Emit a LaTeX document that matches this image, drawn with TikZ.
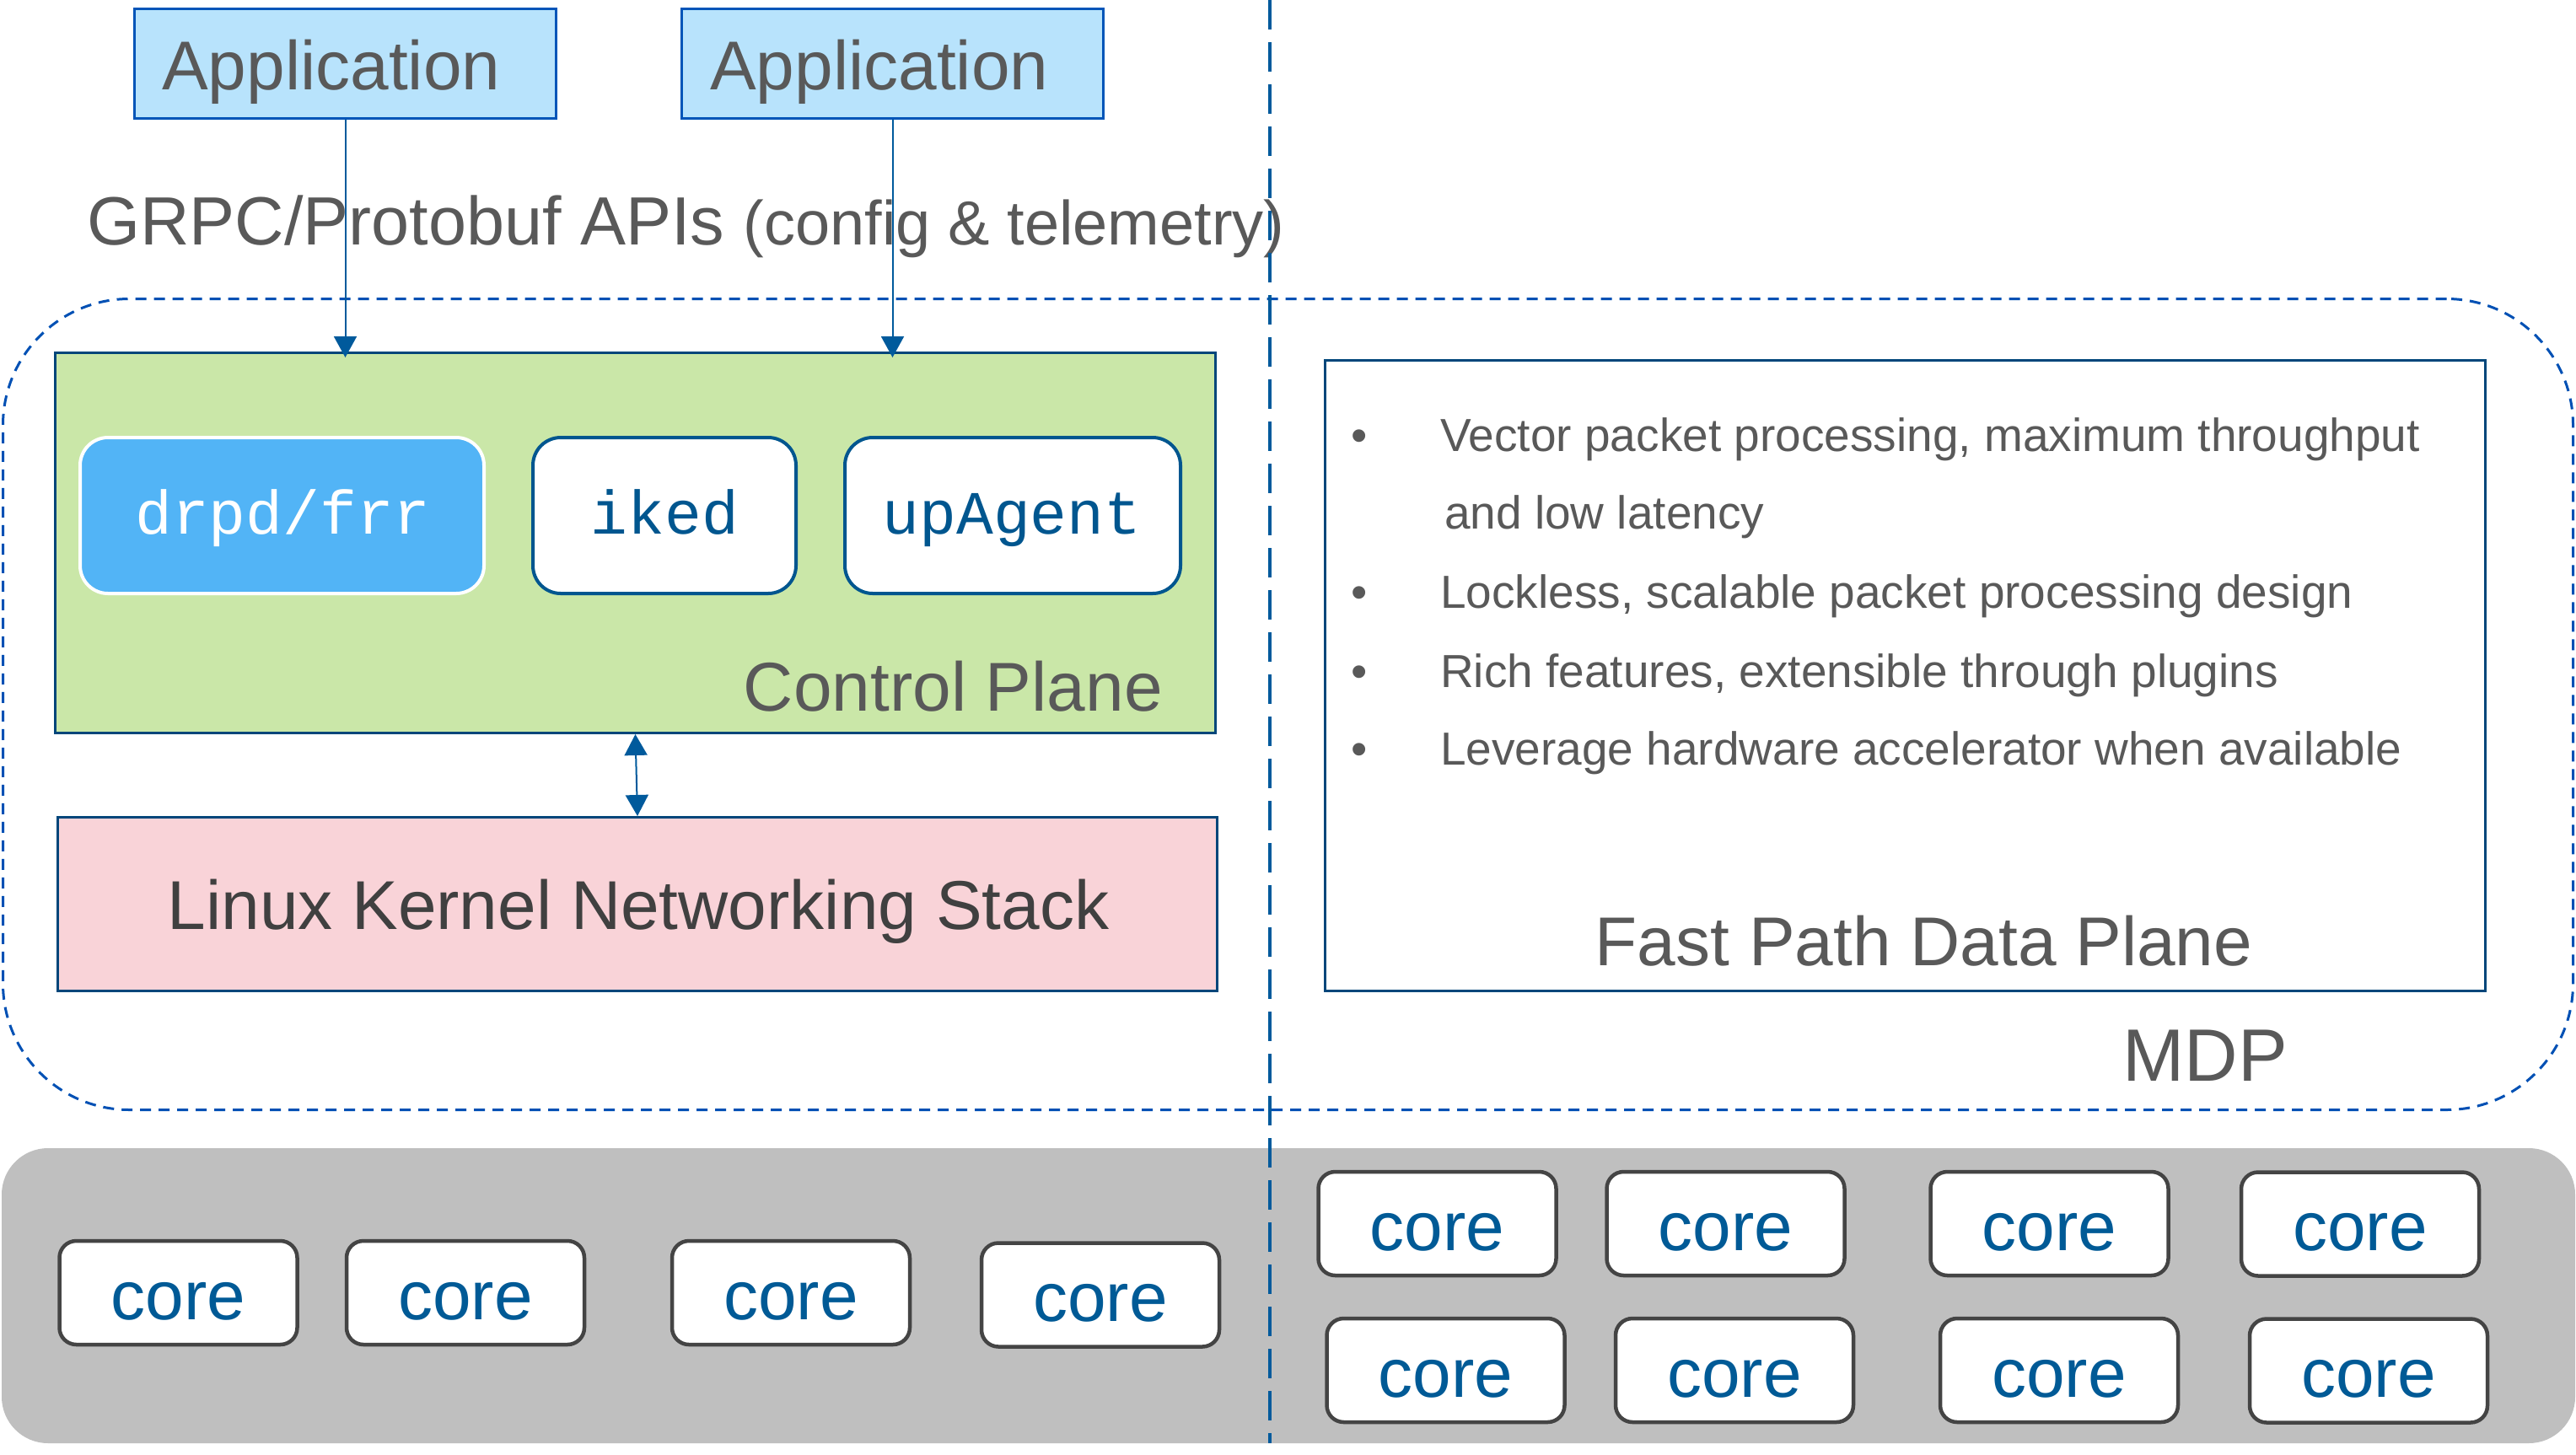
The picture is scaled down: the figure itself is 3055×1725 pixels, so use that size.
\documentclass[tikz,border=0pt]{standalone}
\usepackage{fontspec}
\setmainfont{Liberation Sans}
\newfontfamily\monofont{Liberation Mono}
\usetikzlibrary{arrows.meta}
\definecolor{appfill}{HTML}{B8E3FC}
\definecolor{appborder}{HTML}{0055B8}
\definecolor{arrblue}{HTML}{005A9C}
\definecolor{tgray}{HTML}{595959}
\definecolor{greenfill}{HTML}{CAE7A8}
\definecolor{navy}{HTML}{00467A}
\definecolor{drpdfill}{HTML}{52B4F6}
\definecolor{boxborder}{HTML}{00568F}
\definecolor{pinkfill}{HTML}{F9D3D8}
\definecolor{mdpblue}{HTML}{0050B4}
\definecolor{vblue}{HTML}{005A9C}
\definecolor{grayfill}{HTML}{BFBFBF}
\definecolor{coreborder}{HTML}{444444}
\definecolor{coretext}{HTML}{005A96}
\definecolor{linuxtext}{HTML}{404040}
\begin{document}
\begin{tikzpicture}[x=1pt,y=-1pt,
  appbox/.style={draw=appborder, fill=appfill, line width=3pt, minimum width=500pt, minimum height=130pt, inner sep=0pt},
  bigtxt/.style={anchor=base west, inner sep=0pt, text=tgray, font=\fontsize{82}{98}\selectfont},
  plane/.style={draw=navy, line width=3pt, inner sep=0pt},
  procbox/.style={draw=boxborder, fill=white, line width=4pt, rounded corners=33pt, minimum height=185pt, inner sep=0pt},
  monotxt/.style={anchor=base, inner sep=0pt, font=\monofont\fontsize{73}{88}\selectfont},
  bultxt/.style={anchor=base west, inner sep=0pt, text=tgray, font=\fontsize{55}{66}\selectfont},
  bulsym/.style={anchor=base, inner sep=0pt, text=tgray, font=\fontsize{55}{66}\selectfont},
  corebox/.style={draw=coreborder, fill=white, line width=4.5pt, rounded corners=20pt, minimum width=282pt, minimum height=123pt, inner sep=0pt, text=coretext, font=\fontsize{82}{98}\selectfont, text height=63pt, text depth=0pt},
  arr/.style={draw=arrblue, line width=2pt, -{Triangle[width=27pt,length=25pt]}, shorten >=-7pt},
  arrboth/.style={draw=arrblue, line width=2pt, {Triangle[width=27pt,length=25pt]}-{Triangle[width=27pt,length=25pt]}},
  vdash/.style={draw=vblue, line width=4pt, dash pattern=on 35pt off 15pt}
]
\useasboundingbox (0,0) rectangle (3055,1725);

% CPU area
\node[fill=grayfill, rounded corners=55pt, minimum width=3052pt, minimum height=350pt, inner sep=0pt] (cpu) at (1528,1537) {};

% MDP dashed frame
\node[draw=mdpblue, line width=3pt, dash pattern=on 13pt off 9pt, rounded corners=150pt, minimum width=3048pt, minimum height=962pt, inner sep=0pt] (mdp) at (1527.5,835.5) {};
\node[anchor=base west, inner sep=0pt, text=tgray, font=\fontsize{88}{106}\selectfont] (mdpt) at (2517,1282) {MDP};

% Applications
\node[appbox] (app1) at (409.5,75.5) {};
\node[bigtxt] (app1t) at (192,106) {Application};
\node[appbox] (app2) at (1058.5,75.5) {};
\node[bigtxt] (app2t) at (842,106) {Application};

% API label
\node[anchor=base west, inner sep=0pt, text=tgray, font=\fontsize{81}{97}\selectfont] (grpc) at (103,290) {GRPC/Protobuf APIs {\fontsize{74}{89}\selectfont(config \& telemetry)}};

% Control plane
\node[plane, fill=greenfill, minimum width=1376pt, minimum height=451pt] (green) at (753.5,644) {};
\node[bigtxt, anchor=base east] (cpt) at (1379,843) {Control Plane};
\node[procbox, fill=drpdfill, draw=white, minimum width=479pt] (drpd) at (334.5,611.5) {};
\node[monotxt, text=white] (drpdt) at (335.5,633) {drpd/frr};
\node[procbox, minimum width=312pt] (iked) at (788,611.5) {};
\node[monotxt, text=boxborder] (ikedt) at (788.5,633) {iked};
\node[procbox, minimum width=398pt] (upag) at (1201,611.5) {};
\node[monotxt, text=boxborder] (upagt) at (1200,633) {upAgent};

% Linux
\node[plane, fill=pinkfill, minimum width=1375pt, minimum height=206pt] (pink) at (756,1072.5) {};
\node[anchor=base, inner sep=0pt, text=linuxtext, font=\fontsize{82}{98}\selectfont] (pinkt) at (757,1102) {Linux Kernel Networking Stack};

% Fast path
\node[plane, fill=white, minimum width=1376pt, minimum height=748pt] (fast) at (2259.5,801.5) {};
\node[bulsym] (b1) at (1612,535) {•};
\node[bultxt] (l1) at (1708,535) {Vector packet processing, maximum throughput};
\node[bultxt] (l1b) at (1713,627) {and low latency};
\node[bulsym] (b2) at (1612,721) {•};
\node[bultxt] (l2) at (1708,721) {Lockless, scalable packet processing design};
\node[bulsym] (b3) at (1612,815) {•};
\node[bultxt] (l3) at (1708,815) {Rich features, extensible through plugins};
\node[bulsym] (b4) at (1612,907) {•};
\node[bultxt] (l4) at (1708,907) {Leverage hardware accelerator when available};
\node[anchor=base, inner sep=0pt, text=tgray, font=\fontsize{82}{98}\selectfont] (fastt) at (2281.5,1145) {Fast Path Data Plane};

% Cores
\node[corebox] (c1) at (211.5,1533.5) {core};
\node[corebox] (c2) at (552,1533.5) {core};
\node[corebox] (c3) at (938,1533.5) {core};
\node[corebox] (c4) at (1305,1536) {core};
\node[corebox] (c5) at (1704.5,1451.5) {core};
\node[corebox] (c6) at (2046.5,1451.5) {core};
\node[corebox] (c7) at (2430.5,1451.5) {core};
\node[corebox] (c8) at (2799,1452) {core};
\node[corebox] (c9) at (1714.5,1625.5) {core};
\node[corebox] (c10) at (2057,1625.5) {core};
\node[corebox] (c11) at (2442,1625.5) {core};
\node[corebox] (c12) at (2809,1626) {core};

% Connectors
\draw[arr] (app1.south) -- (app1.south |- green.north);
\draw[arr] (app2.south) -- (app2.south |- green.north);
\draw[arrboth] (green.south) -- (pink.north);

% Divider
\coordinate (vtop) at (1506,0);
\coordinate (vbot) at (1506,1712);
\draw[vdash] (vtop) -- (vbot);
\end{tikzpicture}
\end{document}
